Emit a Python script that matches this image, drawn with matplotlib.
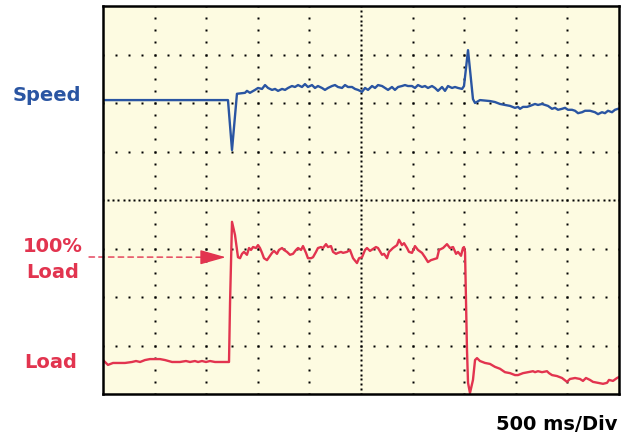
import numpy as np
import matplotlib.pyplot as plt

# time in ms (500 ms per division), level in screen divisions (0 = bottom, 8 = top)
speed_t = [0, 1211, 1250, 1298, 1376, 1395, 1424, 1473, 1502, 1541, 1570, 1599, 1638, 1667,
           1696, 1735, 1764, 1793, 1831, 1860, 1890, 1928, 1957, 1986, 2025, 2054, 2083, 2122,
           2151, 2180, 2219, 2248, 2277, 2316, 2345, 2374, 2413, 2442, 2471, 2510, 2539, 2568,
           2607, 2636, 2665, 2704, 2733, 2762, 2800, 2829, 2859, 2897, 2926, 2955, 2994, 3023,
           3052, 3091, 3120, 3149, 3188, 3217, 3246, 3285, 3314, 3343, 3382, 3411, 3440, 3479,
           3498, 3537, 3585, 3605, 3653, 3750, 3798, 3847, 3895, 3944, 3992, 4021, 4041, 4070,
           4109, 4138, 4186, 4215, 4254, 4283, 4312, 4351, 4380, 4409, 4448, 4477, 4506, 4545,
           4574, 4603, 4642, 4671, 4719, 4767, 4797, 4835, 4864, 4893, 4932, 4961, 4990]
speed_div = [6.06, 6.06, 5.03, 6.19, 6.21, 6.25, 6.21, 6.27, 6.31, 6.29, 6.37, 6.31, 6.27, 6.29,
             6.25, 6.29, 6.27, 6.31, 6.35, 6.33, 6.37, 6.33, 6.39, 6.33, 6.37, 6.31, 6.35, 6.31,
             6.27, 6.31, 6.35, 6.37, 6.33, 6.31, 6.37, 6.33, 6.33, 6.29, 6.27, 6.23, 6.31, 6.27,
             6.35, 6.31, 6.37, 6.35, 6.31, 6.27, 6.33, 6.27, 6.33, 6.35, 6.37, 6.35, 6.35, 6.31,
             6.37, 6.33, 6.35, 6.31, 6.35, 6.31, 6.25, 6.33, 6.25, 6.35, 6.31, 6.33, 6.31, 6.29,
             6.35, 7.09, 6.08, 6.00, 6.06, 6.04, 6.02, 5.98, 5.96, 5.94, 5.90, 5.92, 5.88, 5.92,
             5.92, 5.94, 5.98, 5.96, 5.98, 5.96, 5.94, 5.88, 5.90, 5.86, 5.88, 5.90, 5.86, 5.86,
             5.84, 5.79, 5.81, 5.84, 5.84, 5.81, 5.77, 5.81, 5.79, 5.84, 5.81, 5.86, 5.88]

load_t = [0, 48, 97, 213, 281, 320, 359, 407, 455, 552, 601, 669, 746, 804, 843, 891, 921, 959,
          998, 1037, 1085, 1153, 1221, 1231, 1250, 1279, 1308, 1328, 1347, 1366, 1395, 1415,
          1434, 1454, 1483, 1502, 1521, 1541, 1560, 1589, 1609, 1638, 1657, 1686, 1705, 1735,
          1754, 1783, 1812, 1841, 1870, 1890, 1919, 1938, 1967, 1986, 2016, 2035, 2064, 2083,
          2112, 2132, 2161, 2180, 2209, 2229, 2258, 2277, 2306, 2326, 2364, 2393, 2423, 2461,
          2481, 2510, 2539, 2558, 2587, 2616, 2645, 2665, 2704, 2723, 2752, 2771, 2810, 2849,
          2868, 2897, 2917, 2946, 2965, 2994, 3023, 3052, 3091, 3120, 3149, 3178, 3207, 3237,
          3256, 3295, 3314, 3333, 3362, 3392, 3421, 3440, 3469, 3488, 3498, 3508, 3517, 3527,
          3537, 3556, 3585, 3605, 3624, 3653, 3702, 3750, 3798, 3847, 3895, 3944, 3992, 4021,
          4070, 4118, 4167, 4186, 4215, 4254, 4302, 4322, 4351, 4399, 4448, 4496, 4525, 4574,
          4622, 4651, 4680, 4719, 4748, 4797, 4845, 4884, 4903, 4942, 4981, 5000]
load_div = [0.70, 0.60, 0.64, 0.64, 0.66, 0.68, 0.66, 0.70, 0.72, 0.72, 0.70, 0.66, 0.66, 0.68,
            0.66, 0.68, 0.66, 0.68, 0.66, 0.68, 0.66, 0.66, 0.66, 1.88, 3.55, 3.28, 2.82, 2.80,
            2.89, 2.93, 2.87, 3.01, 2.97, 3.03, 3.01, 3.07, 3.01, 2.91, 2.80, 2.76, 2.82, 2.91,
            2.95, 2.89, 2.97, 3.01, 2.97, 2.93, 2.87, 2.89, 2.97, 3.01, 2.97, 3.05, 2.91, 2.80,
            2.80, 2.82, 2.93, 3.01, 3.03, 3.01, 3.09, 3.03, 3.05, 2.93, 2.89, 2.91, 2.93, 2.91,
            2.93, 2.97, 2.80, 2.70, 2.80, 2.82, 2.97, 3.01, 2.95, 2.99, 3.03, 3.01, 2.87, 2.89,
            2.80, 2.93, 3.01, 3.07, 3.18, 3.07, 3.11, 3.01, 2.93, 2.91, 3.05, 2.97, 2.91, 2.82,
            2.72, 2.76, 2.78, 2.80, 2.97, 3.01, 3.05, 3.09, 3.01, 3.03, 2.89, 2.93, 2.85, 3.01,
            3.03, 2.93, 1.94, 0.91, 0.23, 0.02, 0.29, 0.70, 0.74, 0.68, 0.64, 0.62, 0.56, 0.52,
            0.45, 0.43, 0.39, 0.39, 0.43, 0.45, 0.47, 0.45, 0.47, 0.45, 0.47, 0.43, 0.39, 0.37,
            0.33, 0.25, 0.31, 0.33, 0.31, 0.27, 0.33, 0.29, 0.25, 0.23, 0.21, 0.23, 0.29, 0.27,
            0.33, 0.35]

full_load_div = 2.82
blue = '#2a55a2'
red = '#e2344f'

W, H = 631, 433
fig = plt.figure(figsize=(W / 100, H / 100), dpi=100)
ax = fig.add_axes([103 / W, 39 / H, 516 / W, 388 / H])
ax.set_facecolor('#fdfbe1')
ax.set_xlim(0, 5000)
ax.set_ylim(0, 8)
ax.set_xticks([])
ax.set_yticks([])
for s in ax.spines.values():
    s.set_linewidth(1.8)
    s.set_zorder(5)

# scope graticule made of dots
dot = dict(ls='none', marker='s', ms=1.5, mec='none', color='black', zorder=1)
for i in range(1, 10):
    step = 0.1 if i == 5 else 0.25
    ys = np.arange(0, 8 + 1e-6, step)
    ax.plot(np.full_like(ys, i * 500), ys, **dot)
for j in range(1, 8):
    step = 50 if j == 4 else 125
    xs = np.arange(0, 5000 + 1e-6, step)
    ax.plot(xs, np.full_like(xs, j), **dot)

ax.plot(speed_t, speed_div, color=blue, lw=1.7, zorder=3)
ax.plot(load_t, load_div, color=red, lw=1.7, zorder=3)

# arrow marking the 100% load level
ax.annotate('', xy=(1150, full_load_div), xycoords='data',
            xytext=(89, H - 257), textcoords='figure pixels',
            arrowprops=dict(arrowstyle='-', color=red, lw=1, ls=(0, (4, 3)),
                            shrinkA=0, shrinkB=0), annotation_clip=False)
ax.annotate('', xy=(1190, full_load_div), xycoords='data',
            xytext=(1000, full_load_div), textcoords='data',
            arrowprops=dict(arrowstyle='-|>,head_length=1.6,head_width=0.45', color=red, lw=1,
                            shrinkA=0, shrinkB=0), annotation_clip=False)

lbl = dict(fontsize=14, fontweight='bold', family='DejaVu Sans')
fig.text(47 / W, 1 - 101 / H, 'Speed', color=blue, ha='center', va='baseline', **lbl)
fig.text(53 / W, 1 - 252 / H, '100%', color=red, ha='center', va='baseline', **lbl)
fig.text(53 / W, 1 - 278 / H, 'Load', color=red, ha='center', va='baseline', **lbl)
fig.text(51 / W, 1 - 368 / H, 'Load', color=red, ha='center', va='baseline', **lbl)
fig.text(618 / W, 1 - 430 / H, '500 ms/Div', color='black', ha='right', va='baseline', **lbl)

fig.savefig('out.png', dpi=100, facecolor='white')
